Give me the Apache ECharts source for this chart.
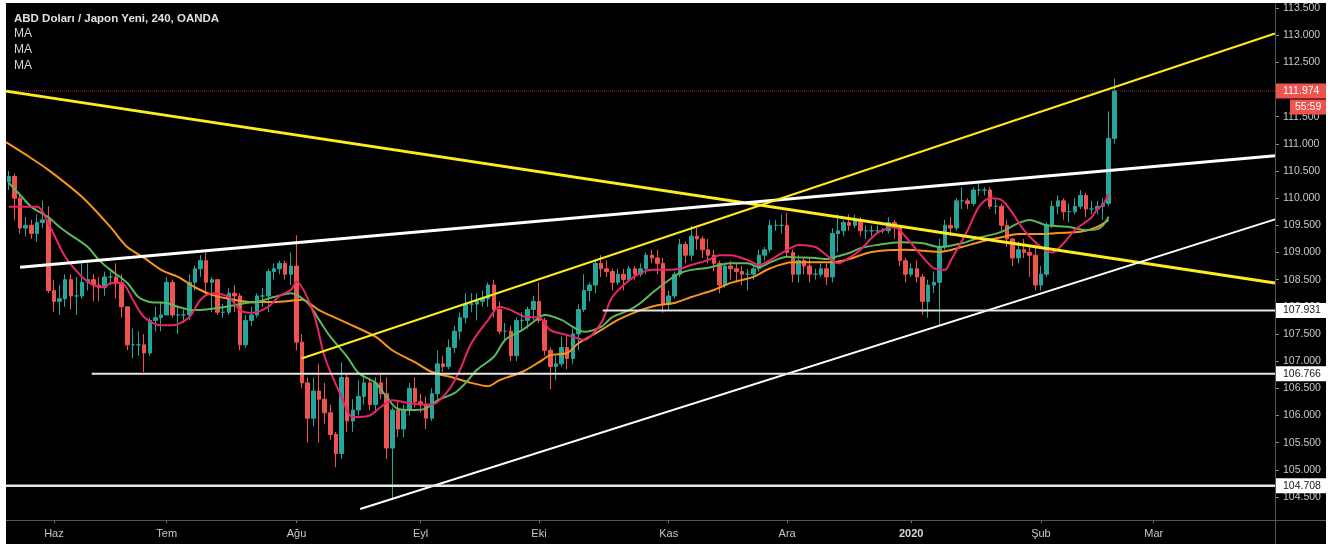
<!DOCTYPE html>
<html><head><meta charset="utf-8">
<script src="https://cdn.jsdelivr.net/npm/echarts@6/dist/echarts.min.js"></script>
<style>
html,body{margin:0;padding:0;background:#fff;width:1332px;height:548px;overflow:hidden}
#bg{position:absolute;left:6px;top:3px;width:1320px;height:541px;background:#000}
#chart{position:absolute;left:0;top:0;width:1332px;height:548px}
</style></head>
<body><div id="bg"></div><div id="chart"></div>
<script>
// ---- axis / category data ----
const firstDay = [2019, 4, 22];      // 22 May 2019 (first weekday shown)
const dayCount = 225;                // weekdays on the time axis (up to 31 Mar 2020)
const monthKeys  = ['2019-06','2019-07','2019-08','2019-09','2019-10','2019-11','2019-12','2020-01','2020-02','2020-03'];
const monthNames = ['Haz','Tem','Ağu','Eyl','Eki','Kas','Ara','2020','Şub','Mar'];
const yMin = 104, yMax = 113.5, yStep = 0.5;

// ---- candles: [open, close, low, high], one per weekday from 22 May 2019 ----
const candles = [
[110.30,110.40,110.15,110.50],[110.40,110.00,109.60,110.45],[110.00,109.45,109.35,110.10],[109.45,109.50,109.30,109.65],
[109.50,109.35,109.25,109.60],[109.35,109.55,109.20,109.70],[109.55,109.60,109.45,109.95],[109.60,108.30,108.25,109.85],
// June
[108.30,108.10,107.90,108.50],[108.10,108.15,107.85,108.40],[108.15,108.50,108.00,108.60],[108.50,108.20,107.95,108.60],
[108.20,108.20,107.85,108.55],[108.20,108.45,108.15,108.80],[108.45,108.50,108.30,108.80],[108.50,108.40,108.10,108.60],
[108.40,108.35,108.10,108.55],[108.35,108.55,108.20,108.65],[108.55,108.55,108.40,108.65],[108.55,108.45,108.15,108.80],
[108.45,108.00,107.80,108.60],[108.00,107.30,107.20,108.00],[107.30,107.30,107.05,107.60],[107.30,107.30,107.10,107.55],
[107.30,107.15,106.80,107.50],[107.15,107.75,107.10,107.80],[107.75,107.80,107.55,108.00],[107.80,107.85,107.55,108.10],
// July
[107.85,108.45,107.85,108.55],[108.45,107.85,107.80,108.50],[107.85,107.85,107.50,108.00],[107.85,107.85,107.70,107.95],
[107.85,108.45,107.75,108.60],[108.45,108.70,108.30,108.75],[108.70,108.85,108.55,108.95],[108.85,108.45,108.20,109.00],
[108.45,108.50,107.90,108.55],[108.50,107.90,107.85,108.50],[107.90,107.90,107.80,108.05],[107.90,108.25,107.85,108.35],
[108.25,108.20,107.90,108.40],[108.20,107.30,107.20,108.25],[107.30,107.75,107.25,107.85],[107.75,107.85,107.65,108.00],
[107.85,108.20,107.80,108.25],[108.20,108.20,108.00,108.35],[108.20,108.65,107.90,108.70],[108.65,108.70,108.50,108.80],
[108.70,108.80,108.60,108.85],[108.80,108.60,108.50,108.85],[108.60,108.75,108.40,109.00],
// August
[108.75,107.35,107.20,109.32],[107.35,106.60,106.50,107.50],[106.60,105.95,105.50,106.70],[105.95,106.45,105.80,106.70],
[106.45,106.30,105.50,106.95],[106.30,106.05,105.85,106.60],[106.05,105.65,105.55,106.20],[105.65,105.30,105.05,105.70],
[105.30,106.70,105.20,106.98],[106.70,105.90,105.70,106.75],[105.90,106.10,105.70,106.30],[106.10,106.35,106.00,106.65],
[106.35,106.60,106.20,106.75],[106.60,106.20,106.10,106.70],[106.20,106.60,106.05,106.70],[106.60,106.40,106.30,106.75],
[106.40,105.40,105.20,106.70],[105.40,106.10,104.45,106.15],[106.10,105.75,105.60,106.25],[105.75,106.10,105.60,106.20],
[106.10,106.50,106.00,106.60],[106.50,106.25,106.15,106.70],
// September
[106.25,106.20,106.05,106.40],[106.20,105.95,105.75,106.35],[105.95,106.40,105.90,106.50],[106.40,106.95,106.30,107.20],
[106.95,106.90,106.80,107.10],[106.90,107.25,106.85,107.40],[107.25,107.55,107.15,107.65],[107.55,107.80,107.40,107.90],
[107.80,108.05,107.70,108.25],[108.05,108.05,107.90,108.25],[108.05,108.10,107.75,108.25],[108.10,108.15,108.00,108.30],
[108.15,108.40,108.00,108.45],[108.40,107.95,107.80,108.50],[107.95,107.55,107.50,108.10],[107.55,107.55,107.35,107.70],
[107.55,107.10,107.00,107.65],[107.10,107.75,107.00,107.80],[107.75,107.75,107.55,107.90],[107.75,107.95,107.60,108.00],
[107.95,108.10,107.75,108.20],
// October
[108.10,107.75,107.70,108.45],[107.75,107.20,107.10,107.80],[107.20,106.90,106.48,107.25],[106.90,106.95,106.65,107.10],
[106.95,107.25,106.90,107.45],[107.25,107.05,106.85,107.50],[107.05,107.50,106.95,107.60],[107.50,107.95,107.20,108.05],
[107.95,108.30,107.90,108.60],[108.30,108.40,108.10,108.45],[108.40,108.80,108.25,108.85],[108.80,108.70,108.55,108.95],
[108.70,108.65,108.55,108.85],[108.65,108.45,108.30,108.70],[108.45,108.60,108.40,108.70],[108.60,108.50,108.30,108.70],
[108.50,108.70,108.45,108.75],[108.70,108.60,108.50,108.75],[108.60,108.70,108.55,108.80],[108.70,108.95,108.60,109.00],
[108.95,108.90,108.80,109.05],[108.90,108.80,108.60,109.05],[108.80,108.05,107.89,108.90],
// November
[108.05,108.20,107.95,108.30],[108.20,108.60,108.15,108.65],[108.60,109.15,108.55,109.25],[109.15,108.95,108.80,109.20],
[108.95,109.30,108.85,109.49],[109.30,109.25,109.05,109.45],[109.25,109.05,108.90,109.30],[109.05,108.95,108.80,109.25],
[108.95,108.80,108.65,109.05],[108.80,108.40,108.25,108.85],[108.40,108.75,108.35,108.80],[108.75,108.70,108.50,108.85],
[108.70,108.65,108.45,108.80],[108.65,108.60,108.40,108.75],[108.60,108.60,108.30,108.70],[108.60,108.70,108.50,108.75],
[108.70,108.95,108.65,109.05],[108.95,109.05,108.85,109.10],[109.05,109.50,109.00,109.60],[109.50,109.50,109.40,109.60],
[109.50,109.50,109.35,109.70],
// December
[109.50,109.00,108.90,109.73],[109.00,108.60,108.45,109.05],[108.60,108.85,108.45,108.95],[108.85,108.75,108.60,108.90],
[108.75,108.60,108.45,108.90],[108.60,108.60,108.50,108.70],[108.60,108.70,108.55,108.80],[108.70,108.55,108.40,108.80],
[108.55,109.35,108.45,109.45],[109.35,109.40,109.00,109.70],[109.40,109.55,109.30,109.60],[109.55,109.50,109.40,109.70],
[109.50,109.60,109.45,109.70],[109.60,109.40,109.30,109.65],[109.40,109.40,109.25,109.50],[109.40,109.40,109.30,109.50],
[109.40,109.40,109.35,109.50],[109.40,109.40,109.35,109.45],[109.40,109.55,109.35,109.65],[109.55,109.45,109.25,109.60],
[109.45,108.85,108.75,109.50],[108.85,108.60,108.45,108.90],
// January 2020
[108.60,108.70,108.55,108.80],[108.70,108.55,108.45,108.85],[108.55,108.10,107.85,108.60],[108.10,108.40,107.80,108.50],
[108.40,108.45,108.25,108.65],[108.45,109.10,107.65,109.25],[109.10,109.50,109.05,109.60],[109.50,109.45,109.30,109.65],
[109.45,109.95,109.40,110.00],[109.95,109.95,109.80,110.20],[109.95,109.90,109.80,110.00],[109.90,110.15,109.85,110.20],
[110.15,110.15,110.05,110.30],[110.15,110.15,110.05,110.20],[110.15,109.85,109.80,110.20],[109.85,109.85,109.70,110.00],
[109.85,109.50,109.40,109.90],[109.50,109.25,109.10,109.60],[109.25,108.90,108.75,109.20],[108.90,109.05,108.80,109.20],
[109.05,109.00,108.90,109.25],[109.00,108.95,108.55,109.10],[108.95,108.40,108.30,109.15],
// February
[108.40,108.60,108.30,108.75],[108.60,109.50,108.55,109.55],[109.50,109.85,109.45,109.95],[109.85,109.95,109.70,110.05],
[109.95,109.75,109.60,110.00],[109.75,109.75,109.55,109.90],[109.75,109.85,109.70,110.00],[109.85,110.05,109.80,110.15],
[110.05,109.80,109.65,110.10],[109.80,109.80,109.70,109.95],[109.80,109.85,109.70,109.95],[109.85,109.90,109.60,110.00],
[109.90,111.10,109.85,111.60],[111.10,111.974,111.00,112.20]
];

// ---- moving averages: [weekday index, value] ----
const maFast = [[0,109.84],[5,109.84],[7,109.54],[10,108.92],[13,108.55],[15,108.4],[17,108.36],[18,108.44],[20,108.44],
[22,108.13],[24,107.81],[27,107.66],[29,107.66],[32,107.81],[34,108.13],[36,108.25],[39,108.18],[41,107.94],[43,107.89],
[46,108.0],[48,108.2],[50,108.31],[51,108.46],[54,107.89],[56,107.08],[59,106.34],[61,105.97],[64,106.0],[66,106.16],
[68,106.28],[71,106.23],[73,106.2],[75,106.2],[78,106.47],[80,106.84],[82,107.33],[85,107.76],[87,108.0],[89,107.94],
[92,107.81],[94,107.81],[96,107.57],[99,107.48],[100,107.45],[102,107.39],[105,107.70],[107,108.18],[110,108.49],
[112,108.62],[114,108.68],[117,108.68],[119,108.7],[121,108.77],[124,108.86],[126,108.95],[128,108.95],[131,108.86],
[133,108.77],[135,108.86],[138,109.05],[140,109.14],[143,109.1],[145,108.95],[147,108.8],[149,108.9],[151,109.05],
[154,109.36],[157,109.47],[159,109.29],[162,108.92],[164,108.71],[166,108.68],[167,108.85],[170,109.41],[172,109.84],
[174,110.0],[176,109.97],[178,109.72],[180,109.41],[183,109.1],[185,109.0],[187,109.17],[189,109.41],[192,109.65],
[193,109.8],[194,109.88],[195,110.08]];
const maMid = [[0,110.28],[2,110.06],[4,109.84],[7,109.65],[9,109.47],[11,109.32],[14,109.1],[16,108.86],[18,108.68],
[21,108.44],[23,108.18],[25,108.09],[28,108.07],[30,108.0],[33,107.94],[35,107.95],[37,107.98],[40,108.03],[42,108.07],
[44,108.09],[47,108.18],[50,108.25],[53,108.07],[55,107.76],[57,107.45],[60,107.08],[62,106.78],[65,106.6],[67,106.34],
[69,106.12],[72,106.1],[74,106.13],[76,106.28],[79,106.41],[81,106.6],[83,106.84],[86,107.08],[88,107.39],[91,107.57],
[93,107.72],[95,107.85],[98,107.76],[100,107.63],[102,107.54],[105,107.63],[107,107.81],[110,107.94],[112,108.07],
[114,108.25],[117,108.49],[119,108.62],[121,108.68],[124,108.72],[126,108.77],[128,108.8],[131,108.8],[133,108.73],
[135,108.82],[138,108.92],[140,108.91],[143,108.9],[145,108.88],[147,108.93],[149,108.99],[151,109.08],[154,109.14],
[158,109.19],[162,109.17],[165,109.1],[169,109.17],[172,109.27],[176,109.38],[179,109.54],[181,109.6],[184,109.5],
[188,109.47],[191,109.41],[193,109.43],[194,109.5],[195,109.66]];
const maSlow = [[-0.5,111.03],[3,110.8],[7,110.52],[13,110.02],[18,109.47],[21,109.1],[24,108.9],[27,108.68],[30,108.55],
[33,108.36],[36,108.22],[40,108.13],[43,108.09],[47,108.09],[50,108.11],[52,108.13],[55,107.94],[60,107.70],[65,107.45],
[68,107.2],[72,106.98],[75,106.8],[79,106.69],[82,106.6],[85,106.54],[87,106.65],[91,106.8],[94,106.98],[96,107.11],
[99,107.15],[101,107.33],[105,107.57],[108,107.76],[112,107.94],[115,108.03],[118,108.07],[121,108.18],[125,108.31],
[128,108.44],[132,108.55],[135,108.71],[139,108.82],[143,108.82],[146,108.82],[149,108.88],[153,109.01],[159,109.05],
[165,109.01],[169,109.1],[172,109.19],[176,109.28],[179,109.34],[183,109.34],[186,109.36],[190,109.38],[193,109.47],[195,109.6]];

// ---- drawn trend lines and levels: [weekday position, price] ----
const yellowDown = [[0,111.97],[225,108.44]];
const yellowUp   = [[52.4,107.05],[225,113.03]];
const whiteTop   = [[2.5,108.73],[225,110.78]];
const whiteLow   = [[62.8,104.28],[225,109.61]];
const levelPrices = [107.931, 106.766, 104.708];
const levelStarts = [105.8, 15.2, 0];
const lastPrice = 111.974;
const countdown = '55:59';
const titleText = 'ABD Doları / Japon Yeni, 240, OANDA';
const legendTexts = ['MA','MA','MA'];

// ---- build ----
const dates = [];
(function(){
  const d = new Date(Date.UTC(firstDay[0], firstDay[1], firstDay[2]));
  while (dates.length < dayCount) {
    const w = d.getUTCDay();
    if (w !== 0 && w !== 6) dates.push(d.toISOString().slice(0,10));
    d.setUTCDate(d.getUTCDate() + 1);
  }
})();
const isMonthStart = i => i > 0 && dates[i].slice(0,7) !== dates[i-1].slice(0,7);
const monthLabel = v => { const k = monthKeys.indexOf(v.slice(0,7)); return k < 0 ? '' : monthNames[k]; };
const shift = arr => arr.map(p => [p[0] + 0.5, p[1]]);

const FONT = 'Liberation Sans, Arial, sans-serif';
const chart = echarts.init(document.getElementById('chart'), null, {renderer:'canvas'});

const H = 548, gridTopPx = 8, pxPerUnit = 54.33; // yMax (113.5) sits at y=8
const gridBottomY = gridTopPx + (yMax - yMin) * pxPerUnit;

function trend(data, color, width, type) {
  return {type:'line', xAxisIndex:1, yAxisIndex:0, data:data, symbol:'none', silent:true,
    lineStyle:{color:color, width:width, type:type || 'solid'}, z:5, animation:false};
}
function ma(data, color) {
  return {type:'line', xAxisIndex:1, yAxisIndex:0, data:shift(data), symbol:'none', smooth:0.3,
    lineStyle:{color:color, width:2}, z:3, animation:false};
}

const series = [
  {type:'candlestick', xAxisIndex:0, yAxisIndex:0, data:candles, barWidth:4, z:2,
   itemStyle:{color:'#26a69a', color0:'#ef5350', borderColor:'#26a69a', borderColor0:'#ef5350', borderWidth:1}},
  ma(maSlow, '#f7931e'),
  ma(maMid, '#5cb85c'),
  ma(maFast, '#e8246a'),
  trend([[0,lastPrice],[dayCount,lastPrice]], '#a03232', 1, 'dotted'),
  trend(yellowDown, '#ffec1f', 3),
  trend(whiteTop, '#ffffff', 3),
  trend(yellowUp, '#ffec1f', 2),
  trend(whiteLow, '#ffffff', 2)
];
levelPrices.forEach((p, k) => series.push(trend([[levelStarts[k], p],[dayCount, p]], '#e6e6e6', k === 2 ? 2.5 : 2)));

chart.setOption({
  animation:false,
  backgroundColor:'transparent',
  grid:{left:6, right:57, top:gridTopPx, bottom:H - gridBottomY},
  xAxis:[
    {type:'category', data:dates, boundaryGap:true, offset:-4,
     axisLine:{show:false, onZero:false},
     axisTick:{show:true, interval:(i)=>isMonthStart(i), alignWithLabel:true, length:3, lineStyle:{color:'#777'}},
     axisLabel:{interval:(i)=>isMonthStart(i), formatter:(v)=>{const n = monthLabel(v); return n === '2020' ? '{b|2020}' : n;},
       color:'#c8c8c8', fontSize:11, fontFamily:FONT, margin:8,
       rich:{b:{fontWeight:'bold', fontSize:11, color:'#d8d8d8', fontFamily:FONT}}},
     splitLine:{show:false}},
    {type:'value', min:0, max:dayCount, show:false, axisLine:{onZero:false}}
  ],
  yAxis:[{type:'value', position:'right', min:yMin, max:yMax, interval:yStep,
    axisLine:{show:false, onZero:false}, axisTick:{show:true, length:4, lineStyle:{color:'#888'}},
    axisLabel:{showMinLabel:false, showMaxLabel:true, formatter:(v)=>v.toFixed(3), color:'#c8c8c8',
      fontSize:10.5, fontFamily:FONT, margin:8},
    splitLine:{show:false}}],
  series:series
});

// ---- overlay: separators, title, price tags ----
const yp = v => chart.convertToPixel({yAxisIndex:0}, v);
const g = [];
g.push({type:'line', shape:{x1:1275.5, y1:3, x2:1275.5, y2:544}, style:{stroke:'#555', lineWidth:1}, z:50});
g.push({type:'line', shape:{x1:6, y1:520.5, x2:1326, y2:520.5}, style:{stroke:'#555', lineWidth:1}, z:50});
g.push({type:'rect', shape:{x:1268, y:521, width:6, height:6}, style:{fill:'#000'}, z:49});
g.push({type:'text', x:14, y:19, style:{text:titleText, fill:'#e0e0e0', font:'bold 11.5px ' + FONT, verticalAlign:'middle'}, z:60});
legendTexts.forEach((t, k) => g.push({type:'text', x:14, y:34 + k*16, style:{text:t, fill:'#d8d8d8', font:'12px ' + FONT, verticalAlign:'middle'}, z:60}));
const yl = yp(lastPrice);
g.push({type:'rect', shape:{x:1276, y:yl-7.5, width:50, height:15}, style:{fill:'#ef5350'}, z:70});
g.push({type:'text', x:1283, y:yl, style:{text:lastPrice.toFixed(3), fill:'#ffffff', font:'10.5px ' + FONT, verticalAlign:'middle'}, z:71});
g.push({type:'rect', shape:{x:1290, y:yl+8.5, width:36, height:15}, style:{fill:'#ef5350'}, z:70});
g.push({type:'text', x:1295, y:yl+16, style:{text:countdown, fill:'#ffffff', font:'10.5px ' + FONT, verticalAlign:'middle'}, z:71});
levelPrices.forEach(p => {
  const y = yp(p);
  g.push({type:'rect', shape:{x:1276, y:y-7.5, width:50, height:15}, style:{fill:'#ffffff'}, z:70});
  g.push({type:'text', x:1283, y:y, style:{text:p.toFixed(3), fill:'#131722', font:'10.5px ' + FONT, verticalAlign:'middle'}, z:71});
});
chart.setOption({graphic:{elements:g}});
</script>
</body></html>
